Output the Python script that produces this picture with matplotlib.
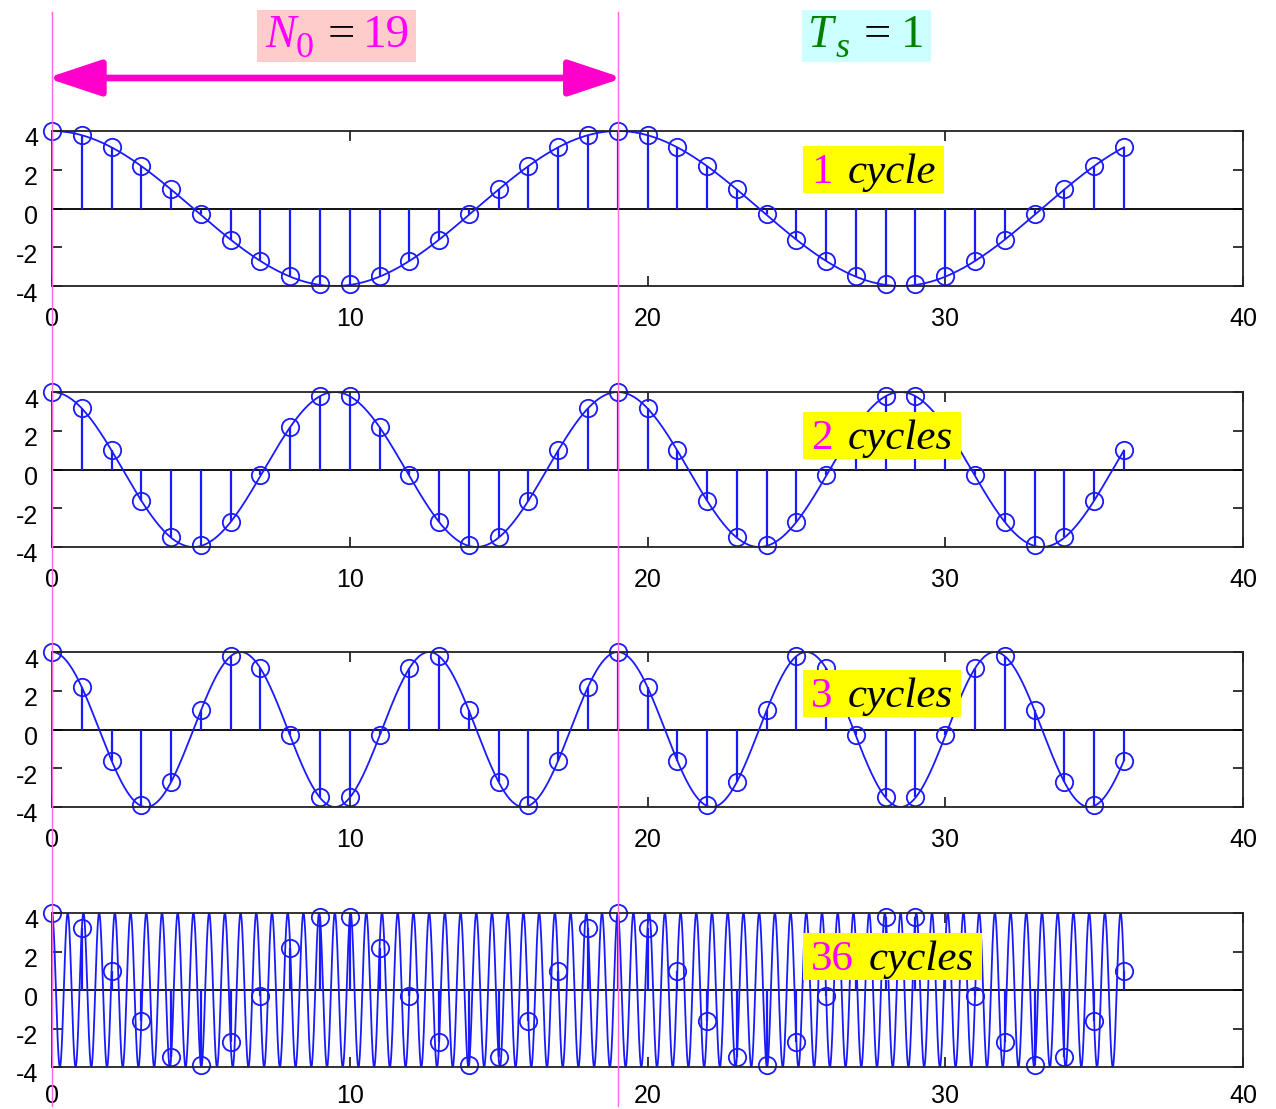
import numpy as np
import matplotlib
matplotlib.use('Agg')
import matplotlib.pyplot as plt
import matplotlib.transforms as mtransforms
from matplotlib.lines import Line2D
from matplotlib.patches import Rectangle

plt.rcParams['font.family'] = ['Liberation Sans', 'DejaVu Sans']
plt.rcParams['axes.unicode_minus'] = False

# ---------------- data ----------------
N0 = 19          # fundamental period (samples)
TS = 1           # sampling interval
AMPLITUDE = 4
cycles = [1, 2, 3, 36]
cycle_words = ['cycle', 'cycles', 'cycles', 'cycles']
n = list(range(37))

x_1 = [4.0, 3.8, 3.2, 2.2, 1.0, -0.3, -1.6, -2.7, -3.5, -3.9, -3.9, -3.5, -2.7, -1.6, -0.3, 1.0, 2.2, 3.2, 3.8,
       4.0, 3.8, 3.2, 2.2, 1.0, -0.3, -1.6, -2.7, -3.5, -3.9, -3.9, -3.5, -2.7, -1.6, -0.3, 1.0, 2.2, 3.2]
x_2 = [4.0, 3.2, 1.0, -1.6, -3.5, -3.9, -2.7, -0.3, 2.2, 3.8, 3.8, 2.2, -0.3, -2.7, -3.9, -3.5, -1.6, 1.0, 3.2,
       4.0, 3.2, 1.0, -1.6, -3.5, -3.9, -2.7, -0.3, 2.2, 3.8, 3.8, 2.2, -0.3, -2.7, -3.9, -3.5, -1.6, 1.0]
x_3 = [4.0, 2.2, -1.6, -3.9, -2.7, 1.0, 3.8, 3.2, -0.3, -3.5, -3.5, -0.3, 3.2, 3.8, 1.0, -2.7, -3.9, -1.6, 2.2,
       4.0, 2.2, -1.6, -3.9, -2.7, 1.0, 3.8, 3.2, -0.3, -3.5, -3.5, -0.3, 3.2, 3.8, 1.0, -2.7, -3.9, -1.6]
x_36 = [4.0, 3.2, 1.0, -1.6, -3.5, -3.9, -2.7, -0.3, 2.2, 3.8, 3.8, 2.2, -0.3, -2.7, -3.9, -3.5, -1.6, 1.0, 3.2,
        4.0, 3.2, 1.0, -1.6, -3.5, -3.9, -2.7, -0.3, 2.2, 3.8, 3.8, 2.2, -0.3, -2.7, -3.9, -3.5, -1.6, 1.0]
samples = [x_1, x_2, x_3, x_36]

xticks = [0, 10, 20, 30, 40]
yticks = [-4, -2, 0, 2, 4]

# ---------------- layout ----------------
W, H = 1276, 1109
fig = plt.figure(figsize=(W / 100, H / 100), dpi=100)

left_px, right_px = 52, 1243
tops_px = [131, 392, 652, 913]
bots_px = [286, 547, 807, 1067]
label_base_px = [183, 449, 707, 970]
xpads = [15, 15, 15, 12]

BLUE = '#1a1aff'
SERIF = 'Liberation Serif'
FS = 31
FS_H = 33
FS_SUB = 26
MAGENTA = '#ff00ff'
GREEN = '#008000'

axes = []
y_off = mtransforms.ScaledTranslation(0, -6 / 100, fig.dpi_scale_trans)
for i, (k, vals) in enumerate(zip(cycles, samples)):
    ax = fig.add_axes([left_px / W, 1 - bots_px[i] / H,
                       (right_px - left_px) / W, (bots_px[i] - tops_px[i]) / H])
    axes.append(ax)
    t = np.linspace(0, n[-1], 9001)
    curve = AMPLITUDE * np.cos(2 * np.pi * k * t / N0)
    ax.axhline(0, color='black', lw=1.3, zorder=1)
    ml, sl, bl = ax.stem(n, vals, basefmt=' ')
    sl.set_color(BLUE)
    sl.set_linewidth(1.6)
    ml.set_markerfacecolor('none')
    ml.set_markeredgecolor(BLUE)
    ml.set_markersize(12.5)
    ml.set_markeredgewidth(1.3)
    ml.set_clip_on(False)
    ax.plot(t, curve, color=BLUE, lw=1.3, zorder=2)

    ax.set_xlim(0, 40)
    ax.set_ylim(-4, 4)
    ax.set_xticks(xticks)
    ax.set_yticks(yticks)
    ax.tick_params(direction='in', top=True, right=True, length=7, width=1.1,
                   labelsize=18, colors='black')
    ax.tick_params(axis='x', pad=xpads[i])
    ax.tick_params(axis='y', pad=10)
    for sp in ax.spines.values():
        sp.set_linewidth(1.3)
        sp.set_color('#222222')
    for tk in ax.yaxis.get_major_ticks():
        tk.label1.set_transform(tk.label1.get_transform() + y_off)

fig.canvas.draw()
renderer = fig.canvas.get_renderer()


def ptext(x, y_top, s, **kw):
    """text at figure-pixel x, baseline y measured from top"""
    return fig.text(x, H - y_top, s, transform=None, ha='left', va='baseline',
                    zorder=6, **kw)


def chain(pieces, x0, box, fc):
    """pieces: list of (text, gap_before, baseline_y, props); box=(l, t, r, b) or r=None"""
    x = x0
    last = None
    for s, gap, base, props in pieces:
        if last is not None:
            x = last.get_window_extent(renderer).x1 + gap
        last = ptext(x, base, s, **props)
    l, t, r, b = box
    if r is None:
        r = last.get_window_extent(renderer).x1 + 8
    fig.add_artist(Rectangle((l, H - b), r - l, b - t, transform=None,
                             facecolor=fc, edgecolor='none', zorder=5))


# cycle labels
for i, k in enumerate(cycles):
    b = label_base_px[i]
    chain([(str(k), 0, b, dict(color=MAGENTA, fontsize=FS, family=SERIF)),
           (cycle_words[i], 15, b, dict(color='black', fontsize=FS, family=SERIF,
                                        style='italic'))],
          811, (803, b - 37, None, b + 10), '#ffff00')

# header boxes
chain([('N', 0, 47, dict(color=MAGENTA, fontsize=FS_H, family=SERIF, style='italic')),
       ('0', 0, 57, dict(color=MAGENTA, fontsize=FS_SUB, family=SERIF)),
       ('=', 14, 47, dict(color='black', fontsize=FS_H + 2, family=SERIF)),
       (str(N0), 8, 47, dict(color=MAGENTA, fontsize=FS_H + 1, family=SERIF))],
      265, (257, 10, 416, 62), '#ffcccc')
chain([('T', 0, 47, dict(color=GREEN, fontsize=FS_H, family=SERIF, style='italic')),
       ('s', 2, 57, dict(color=GREEN, fontsize=FS_SUB, family=SERIF, style='italic')),
       ('=', 14, 47, dict(color='black', fontsize=FS_H + 2, family=SERIF)),
       (str(TS), 10, 47, dict(color=GREEN, fontsize=FS_H + 1, family=SERIF))],
      808, (802, 10, 931, 62), '#ccffff')

# magenta vertical markers at n = 0 and n = N0
blend = mtransforms.blended_transform_factory(axes[0].transData, fig.transFigure)
for xv in [0, N0]:
    fig.add_artist(Line2D([xv, xv], [1 - 12 / H, 1 - 1106 / H], transform=blend,
                          color='#ff66dd', lw=1.0, zorder=10))

# double arrow
arrow_y = 1 - 78 / H
bl_left = blend + mtransforms.ScaledTranslation(-5 / 100, 0, fig.dpi_scale_trans)
bl_right = blend + mtransforms.ScaledTranslation(5 / 100, 0, fig.dpi_scale_trans)
axes[0].annotate('', xy=(N0, arrow_y), xytext=(0, arrow_y), xycoords=bl_right,
                 textcoords=bl_left, annotation_clip=False,
                 arrowprops=dict(arrowstyle='<|-|>,head_length=3.3,head_width=1.1',
                                 mutation_scale=10, color='#ff00cc', lw=4.8,
                                 shrinkA=0, shrinkB=0))

fig.savefig('out.png', dpi=100)
